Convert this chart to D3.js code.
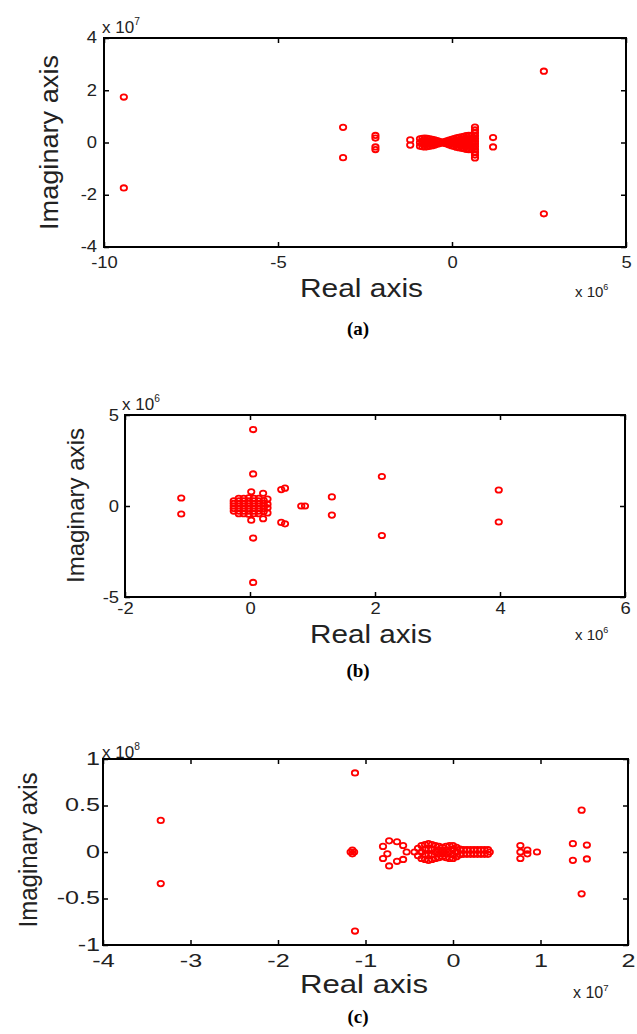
<!DOCTYPE html>
<html>
<head>
<meta charset="utf-8">
<script src="https://cdn.jsdelivr.net/npm/d3@7"></script>
<style>
  html, body { margin: 0; padding: 0; background: #fff; }
  svg { display: block; }
  text { font-family: "Liberation Sans", Arial, sans-serif; fill: #222; }
  .caption { font-family: "Liberation Serif", "Times New Roman", serif; font-weight: bold; fill: #000; }
</style>
</head>
<body>
<script>
// Pole locations of three models, plotted in the complex plane.
// Each entry is [real part, imaginary part] in the units of its axes.

// (a) real part x 10^6, imaginary part x 10^7
const polesA = [
  [-9.43, 1.74], [-9.43, -1.74],
  [2.64, 2.73], [2.64, -2.73],
  [-3.13, 0.58], [-3.13, -0.58],
  [-2.2, 0.27], [-2.2, 0.17], [-2.2, -0.17], [-2.2, -0.27],
  [-1.2, 0.1], [-1.2, -0.1],
  [-0.92, 0.14], [-0.92, -0.14], [-0.92, 0.0],
  [-0.85, 0.16], [-0.85, -0.16], [-0.85, 0.05], [-0.85, -0.05],
  [-0.78, 0.17], [-0.78, -0.17], [-0.78, 0.06], [-0.78, -0.06],
  [-0.71, 0.16], [-0.71, -0.16], [-0.71, 0.05], [-0.71, -0.05],
  [-0.64, 0.14], [-0.64, -0.14], [-0.64, 0.0],
  [-0.57, 0.12], [-0.57, -0.12], [-0.57, 0.04], [-0.57, -0.04],
  [-0.5, 0.1], [-0.5, -0.1], [-0.5, 0.0],
  [-0.43, 0.07], [-0.43, -0.07],
  [-0.36, 0.04], [-0.36, -0.04],
  [-0.29, 0.0],
  [-0.22, 0.03], [-0.22, -0.03],
  [-0.15, 0.06], [-0.15, -0.06],
  [-0.08, 0.09], [-0.08, -0.09], [-0.08, 0.0],
  [-0.01, 0.12], [-0.01, -0.12], [-0.01, 0.03], [-0.01, -0.03],
  [0.06, 0.15], [0.06, -0.15], [0.06, 0.05], [0.06, -0.05],
  [0.13, 0.18], [0.13, -0.18], [0.13, 0.06], [0.13, -0.06],
  [0.2, 0.2], [0.2, -0.2], [0.2, 0.08], [0.2, -0.08],
  [0.27, 0.22], [0.27, -0.22], [0.27, 0.08], [0.27, -0.08],
  [0.34, 0.24], [0.34, -0.24], [0.34, 0.1], [0.34, -0.1], [0.34, 0.0],
  [0.41, 0.26], [0.41, -0.26], [0.41, 0.12], [0.41, -0.12],
  [0.48, 0.27], [0.48, -0.27], [0.48, 0.12], [0.48, -0.12], [0.48, 0.0],
  [0.55, 0.27], [0.55, -0.27], [0.55, 0.12], [0.55, -0.12],
  [0.6, 0.2], [0.6, -0.2], [0.6, 0.06], [0.6, -0.06],
  [0.66, 0.59], [0.66, -0.59], [0.66, 0.48], [0.66, -0.48], [0.66, 0.37], [0.66, -0.37],
  [0.66, 0.26], [0.66, -0.26], [0.66, 0.15], [0.66, -0.15], [0.66, 0.05], [0.66, -0.05],
  [1.18, 0.19], [1.18, -0.17]
];

// (b) real part x 10^6, imaginary part x 10^6
const polesB = [
  [-1.1, 0.44], [-1.1, -0.44],
  [0.05, 4.2], [0.05, -4.2],
  [0.05, 1.76], [0.05, -1.76],
  [0.02, 0.78], [0.02, -0.78],
  [0.21, 0.7], [0.21, -0.7],
  [-0.26, 0.28], [-0.26, 0.14], [-0.26, 0.0], [-0.26, -0.14], [-0.26, -0.28],
  [-0.18, 0.42], [-0.18, 0.28], [-0.18, 0.14], [-0.18, 0.0], [-0.18, -0.14], [-0.18, -0.28], [-0.18, -0.42],
  [-0.1, 0.42], [-0.1, 0.28], [-0.1, 0.14], [-0.1, 0.0], [-0.1, -0.14], [-0.1, -0.28], [-0.1, -0.42],
  [-0.02, 0.45], [-0.02, 0.28], [-0.02, 0.14], [-0.02, 0.0], [-0.02, -0.14], [-0.02, -0.28], [-0.02, -0.45],
  [0.06, 0.42], [0.06, 0.28], [0.06, 0.14], [0.06, 0.0], [0.06, -0.14], [0.06, -0.28], [0.06, -0.42],
  [0.14, 0.42], [0.14, 0.28], [0.14, 0.14], [0.14, 0.0], [0.14, -0.14], [0.14, -0.28], [0.14, -0.42],
  [0.22, 0.3], [0.22, 0.14], [0.22, 0.0], [0.22, -0.14], [0.22, -0.3],
  [0.28, 0.38], [0.28, 0.1], [0.28, -0.1], [0.28, -0.38],
  [0.5, 0.9], [0.56, 0.98], [0.5, -0.9], [0.56, -0.98],
  [0.82, 0.0], [0.88, 0.0],
  [1.31, 0.5], [1.31, -0.5],
  [2.11, 1.62], [2.11, -1.62],
  [3.98, 0.88], [3.98, -0.88]
];

// (c) real part x 10^7, imaginary part x 10^8
const polesC = [
  [-3.34, 0.34], [-3.34, -0.34],
  [-1.12, 0.85], [-1.12, -0.85],
  [-1.15, 0.02], [-1.15, -0.02], [-1.13, 0.0], [-1.17, 0.0],
  [-0.8, 0.06], [-0.73, 0.12], [-0.64, 0.11], [-0.57, 0.07], [-0.53, 0.0],
  [-0.57, -0.08], [-0.64, -0.1], [-0.73, -0.15], [-0.8, -0.07], [-0.75, -0.02],
  [-0.44, 0.0],
  [-0.4, 0.04], [-0.4, -0.04],
  [-0.36, 0.07], [-0.36, -0.07], [-0.36, 0.0],
  [-0.32, 0.08], [-0.32, -0.08], [-0.32, 0.03], [-0.32, -0.03],
  [-0.28, 0.09], [-0.28, -0.09], [-0.28, 0.03], [-0.28, -0.03],
  [-0.24, 0.08], [-0.24, -0.08], [-0.24, 0.03], [-0.24, -0.03],
  [-0.2, 0.07], [-0.2, -0.07], [-0.2, 0.0],
  [-0.16, 0.06], [-0.16, -0.06], [-0.16, 0.02], [-0.16, -0.02],
  [-0.12, 0.05], [-0.12, -0.05], [-0.12, 0.0],
  [-0.08, 0.06], [-0.08, -0.06], [-0.08, 0.02], [-0.08, -0.02],
  [-0.04, 0.07], [-0.04, -0.07], [-0.04, 0.0],
  [0.0, 0.07], [0.0, -0.07], [0.0, 0.03], [0.0, -0.03],
  [0.04, 0.05], [0.04, -0.05], [0.04, 0.0],
  [0.08, 0.03], [0.08, -0.03],
  [0.12, 0.025], [0.12, -0.025], [0.16, 0.025], [0.16, -0.025],
  [0.2, 0.025], [0.2, -0.025], [0.24, 0.025], [0.24, -0.025],
  [0.28, 0.025], [0.28, -0.025], [0.32, 0.025], [0.32, -0.025],
  [0.36, 0.025], [0.36, -0.025], [0.4, 0.025], [0.4, -0.025], [0.42, 0.0],
  [0.77, 0.07], [0.77, 0.0], [0.77, -0.07], [0.85, 0.02], [0.85, -0.02], [0.96, 0.0],
  [1.37, 0.09], [1.37, -0.09], [1.53, 0.075], [1.53, -0.075],
  [1.47, 0.45], [1.47, -0.45]
];

// Axis ranges and tick labels
const xTicksA = [-10, -5, 0, 5];
const yTicksA = [-4, -2, 0, 2, 4];
const xTicksB = [-2, 0, 2, 4, 6];
const yTicksB = [-5, 0, 5];
const xTicksC = [-4, -3, -2, -1, 0, 1, 2];
const yTicksC = [-1, -0.5, 0, 0.5, 1];
const xExponents = ["6", "6", "7"];
const yExponents = ["7", "6", "8"];
const captions = ["(a)", "(b)", "(c)"];
const xTitle = "Real axis";
const yTitle = "Imaginary axis";

const W = 637, H = 1034;
const svg = d3.select("body").append("svg").attr("width", W).attr("height", H);

const panels = [
  { poles: polesA, xt: xTicksA, yt: yTicksA, xe: xExponents[0], ye: yExponents[0], cap: captions[0],
    box: { l: 104, r: 626, t: 38, b: 247 },
    tickFont: 16, tickStretch: 1.15, xTickBase: 21, yTickGap: 7, yTickDy: "0.3em",
    yLab: { x: 58, y: 142.5, size: 25, len: 175 },
    xLab: { x: 300, y: 297, size: 26, len: 123 },
    topExp: { x: 102, y: 33, size: 17 }, botExp: { x: 575, y: 297, size: 15 },
    capY: 335 },
  { poles: polesB, xt: xTicksB, yt: yTicksB, xe: xExponents[1], ye: yExponents[1], cap: captions[1],
    box: { l: 125, r: 625, t: 415, b: 597 },
    tickFont: 16, tickStretch: 1.15, xTickBase: 17, yTickGap: 6, yTickDy: "0.35em",
    yLab: { x: 84, y: 505.5, size: 24, len: 155 },
    xLab: { x: 310, y: 643, size: 25, len: 122 },
    topExp: { x: 122, y: 410, size: 17 }, botExp: { x: 575, y: 640, size: 15 },
    capY: 677 },
  { poles: polesC, xt: xTicksC, yt: yTicksC, xe: xExponents[2], ye: yExponents[2], cap: captions[2],
    box: { l: 103, r: 628, t: 759, b: 945 },
    tickFont: 18, tickStretch: 1.4, xTickBase: 22, yTickGap: 3, yTickDy: "0.3em",
    yLab: { x: 37, y: 850, size: 25, len: 155 },
    xLab: { x: 300, y: 993, size: 25, len: 128 },
    topExp: { x: 102, y: 758, size: 17 }, botExp: { x: 573, y: 998, size: 16 },
    capY: 1023 }
];

const fmt = v => String(v);

panels.forEach(p => {
  const { l, r, t, b } = p.box;
  const x = d3.scaleLinear().domain(d3.extent(p.xt)).range([l, r]);
  const y = d3.scaleLinear().domain(d3.extent(p.yt)).range([b, t]);
  const g = svg.append("g");

  // inward ticks on all four sides
  const tickStyle = sel => {
    sel.select(".domain").remove();
    sel.selectAll(".tick line").attr("stroke", "#000").attr("stroke-width", 1.5);
  };
  g.append("g").attr("transform", `translate(0,${t})`)
    .call(d3.axisTop(x).tickValues(p.xt).tickSize(-5).tickFormat(""))
    .call(tickStyle);
  g.append("g").attr("transform", `translate(${r},0)`)
    .call(d3.axisRight(y).tickValues(p.yt).tickSize(-5).tickFormat(""))
    .call(tickStyle);

  const bottom = g.append("g").attr("transform", `translate(0,${b})`)
    .call(d3.axisBottom(x).tickValues(p.xt).tickSize(-5).tickFormat(fmt))
    .call(tickStyle);
  bottom.selectAll(".tick text")
    .attr("y", p.xTickBase).attr("dy", null)
    .attr("font-size", p.tickFont)
    .attr("fill", "#222")
    .attr("transform", `scale(${p.tickStretch},1)`);

  const left = g.append("g").attr("transform", `translate(${l},0)`)
    .call(d3.axisLeft(y).tickValues(p.yt).tickSize(-5).tickFormat(fmt))
    .call(tickStyle);
  left.selectAll(".tick text")
    .attr("x", -p.yTickGap / p.tickStretch)
    .attr("dy", p.yTickDy)
    .attr("font-size", p.tickFont)
    .attr("fill", "#222")
    .attr("transform", `scale(${p.tickStretch},1)`);

  // frame
  g.append("rect")
    .attr("x", l).attr("y", t).attr("width", r - l).attr("height", b - t)
    .attr("fill", "none").attr("stroke", "#000").attr("stroke-width", 2);

  // poles
  g.append("g").selectAll("ellipse").data(p.poles).join("ellipse")
    .attr("cx", d => x(d[0])).attr("cy", d => y(d[1]))
    .attr("rx", 3.2).attr("ry", 2.7)
    .attr("fill", "none").attr("stroke", "#f00").attr("stroke-width", 1.8);

  // axis titles
  g.append("text")
    .attr("transform", `translate(${p.yLab.x},${p.yLab.y}) rotate(-90)`)
    .attr("text-anchor", "middle")
    .attr("font-size", p.yLab.size)
    .attr("textLength", p.yLab.len).attr("lengthAdjust", "spacingAndGlyphs")
    .text(yTitle);
  g.append("text")
    .attr("x", p.xLab.x).attr("y", p.xLab.y)
    .attr("font-size", p.xLab.size)
    .attr("textLength", p.xLab.len).attr("lengthAdjust", "spacingAndGlyphs")
    .text(xTitle);

  // scale factors "x 10^n"
  const expLabel = (pos, e) => {
    const tx = g.append("text").attr("x", pos.x).attr("y", pos.y).attr("font-size", pos.size);
    tx.append("tspan").text("x 10");
    tx.append("tspan").attr("dy", -pos.size * 0.45).attr("font-size", pos.size * 0.6).text(e);
  };
  expLabel(p.topExp, p.ye);
  expLabel(p.botExp, p.xe);

  // caption
  svg.append("text").attr("class", "caption")
    .attr("x", 358).attr("y", p.capY)
    .attr("text-anchor", "middle").attr("font-size", 19)
    .text(p.cap);
});
</script>
</body>
</html>
